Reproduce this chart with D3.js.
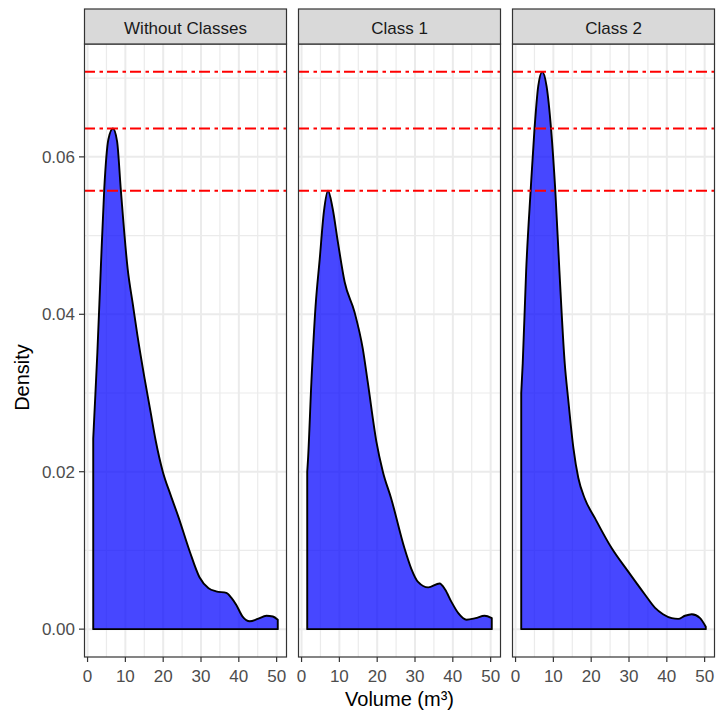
<!DOCTYPE html>
<html>
<head>
<meta charset="utf-8">
<script src="https://cdn.jsdelivr.net/npm/d3@7"></script>
<style>
  body { margin: 0; background: #fff; }
  text { font-family: "Liberation Sans", Arial, sans-serif; }
</style>
</head>
<body>
<svg id="mainSVG" width="718" height="713"></svg>
<script>
var $svg = d3.select("#mainSVG");

// Data: volume (m3) and density
var panelNames = ['Without Classes', 'Class 1', 'Class 2'];

var volWithout = [1.5, 1.8, 2.6, 3.5, 4.4, 5.5, 6.7, 7.8, 8.8, 10.6, 12.0, 13.2, 15.1, 16.7, 18.0, 19.9, 22.0, 24.0, 27.0, 29.6, 32.0, 34.0, 36.7, 38.0, 39.3, 41.0, 42.9, 45.0, 47.3, 49.0, 50.3];
var denWithout = [0.0242, 0.0272, 0.0352, 0.0458, 0.0558, 0.0622, 0.0636, 0.0620, 0.0558, 0.0458, 0.0412, 0.0373, 0.0318, 0.0275, 0.0240, 0.0200, 0.0170, 0.0143, 0.0099, 0.0066, 0.0052, 0.0048, 0.0046, 0.0040, 0.0031, 0.0016, 0.0010, 0.0013, 0.0017, 0.0016, 0.0012];

var volClass1 = [1.5, 1.7, 2.6, 3.7, 4.8, 5.9, 7.0, 8.2, 9.6, 11.4, 14.0, 16.2, 17.5, 19.8, 21.5, 23.7, 27.2, 29.0, 30.8, 33.5, 36.5, 38.0, 39.6, 41.5, 43.6, 46.0, 48.4, 50.3];
var denClass1 = [0.0200, 0.0215, 0.0314, 0.0410, 0.0470, 0.0530, 0.0557, 0.0535, 0.0492, 0.0441, 0.0403, 0.0356, 0.0314, 0.0238, 0.0200, 0.0166, 0.0103, 0.0077, 0.0060, 0.0053, 0.0058, 0.0050, 0.0035, 0.0020, 0.0012, 0.0014, 0.0017, 0.0014];

var volClass2 = [1.5, 1.9, 2.8, 4.0, 5.0, 6.0, 7.05, 8.2, 9.4, 10.5, 11.6, 13.0, 13.9, 15.3, 16.6, 18.3, 21.0, 25.4, 29.8, 34.2, 36.9, 39.0, 41.3, 43.0, 44.8, 46.6, 48.8, 50.3];
var denClass2 = [0.0300, 0.0338, 0.0455, 0.0558, 0.0635, 0.0690, 0.0708, 0.0690, 0.0635, 0.0558, 0.0455, 0.0338, 0.0293, 0.0230, 0.0192, 0.0166, 0.0141, 0.0103, 0.0073, 0.0044, 0.0027, 0.0019, 0.0014, 0.0013, 0.0017, 0.0019, 0.0014, 0.0003];

// peak reference lines drawn in every panel
var peakLines = [0.0708, 0.0636, 0.0557];

var xTicks = [0, 10, 20, 30, 40, 50];
var yTicks = [0, 0.02, 0.04, 0.06];
var xMinor = [5, 15, 25, 35, 45];
var yMinor = [0.01, 0.03, 0.05, 0.07];

var panels = [
    {name: panelNames[0], vol: volWithout, den: denWithout},
    {name: panelNames[1], vol: volClass1, den: denClass1},
    {name: panelNames[2], vol: volClass2, den: denClass2}
];

// Layout
var panelX = [84, 298, 512];
var panelW = 203;
var stripTop = 9, stripH = 35;
var plotTop = stripTop + stripH, plotBottom = 657;

// Scales (ggplot style 5% expansion)
var allVol = volWithout.concat(volClass1, volClass2);
var allDen = denWithout.concat(denClass1, denClass2, peakLines);
var xExt = d3.extent(allVol);
var xPad = (xExt[1] - xExt[0]) * 0.05;
var yMax = d3.max(allDen);
var yPad = yMax * 0.05;

var y = d3.scaleLinear().domain([-yPad, yMax + yPad]).range([plotBottom, plotTop]);

panels.forEach(function(p, i){
    var x = d3.scaleLinear().domain([xExt[0] - xPad, xExt[1] + xPad]).range([0, panelW]);
    var $g = $svg.append('g').attr('transform', `translate(${panelX[i]} 0)`);

    // background + grid
    $g.append('rect').attr('x', 0).attr('y', plotTop)
        .attr('width', panelW).attr('height', plotBottom - plotTop)
        .attr('fill', 'white');

    $g.selectAll('line.xminor').data(xMinor).enter().append('line')
        .attr('x1', d=>x(d)).attr('x2', d=>x(d))
        .attr('y1', plotTop).attr('y2', plotBottom)
        .attr('stroke', '#ebebeb').attr('stroke-width', 1.2);
    $g.selectAll('line.yminor').data(yMinor).enter().append('line')
        .attr('y1', d=>y(d)).attr('y2', d=>y(d))
        .attr('x1', 0).attr('x2', panelW)
        .attr('stroke', '#ebebeb').attr('stroke-width', 1.2);
    $g.selectAll('line.xmajor').data(xTicks).enter().append('line')
        .attr('x1', d=>x(d)).attr('x2', d=>x(d))
        .attr('y1', plotTop).attr('y2', plotBottom)
        .attr('stroke', '#ebebeb').attr('stroke-width', 2);
    $g.selectAll('line.ymajor').data(yTicks).enter().append('line')
        .attr('y1', d=>y(d)).attr('y2', d=>y(d))
        .attr('x1', 0).attr('x2', panelW)
        .attr('stroke', '#ebebeb').attr('stroke-width', 2);

    // density polygon
    var pts = p.vol.map((v, k)=>[v, p.den[k]]);
    var area = d3.area()
        .x(d=>x(d[0])).y0(y(0)).y1(d=>y(d[1]))
        .curve(d3.curveMonotoneX);
    $g.append('path').attr('d', area(pts))
        .attr('fill', 'rgb(0,0,255)').attr('fill-opacity', 0.72)
        .attr('stroke', 'black').attr('stroke-width', 1.9)
        .attr('stroke-linejoin', 'round');

    // red dot-dash reference lines
    $g.selectAll('line.peak').data(peakLines).enter().append('line')
        .attr('x1', 0).attr('x2', panelW)
        .attr('y1', d=>y(d)).attr('y2', d=>y(d))
        .attr('stroke', 'red').attr('stroke-width', 2)
        .attr('stroke-dasharray', '11,4.5,3.5,4');

    // border
    $g.append('rect').attr('x', 0.5).attr('y', plotTop)
        .attr('width', panelW - 1).attr('height', plotBottom - plotTop)
        .attr('fill', 'none').attr('stroke', '#333333').attr('stroke-width', 1.2);

    // strip
    $g.append('rect').attr('x', 0.5).attr('y', stripTop)
        .attr('width', panelW - 1).attr('height', stripH)
        .attr('fill', '#d9d9d9').attr('stroke', '#333333').attr('stroke-width', 1.2);
    $g.append('text').attr('x', panelW / 2).attr('y', stripTop + stripH / 2 + 7)
        .attr('text-anchor', 'middle').attr('font-size', 17)
        .attr('fill', '#1a1a1a').text(p.name);

    // x axis
    var $xa = $g.append('g').attr('transform', `translate(0 ${plotBottom})`);
    $xa.selectAll('line').data(xTicks).enter().append('line')
        .attr('x1', d=>x(d)).attr('x2', d=>x(d))
        .attr('y1', 0).attr('y2', 5)
        .attr('stroke', '#333333').attr('stroke-width', 1.2);
    $xa.selectAll('text').data(xTicks).enter().append('text')
        .attr('x', d=>x(d)).attr('y', 24.5)
        .attr('text-anchor', 'middle').attr('font-size', 17)
        .attr('fill', '#4d4d4d').text(d=>d);

    // y axis on first panel only
    if (i == 0){
        var $ya = $g.append('g');
        $ya.selectAll('line').data(yTicks).enter().append('line')
            .attr('x1', -5).attr('x2', 0)
            .attr('y1', d=>y(d)).attr('y2', d=>y(d))
            .attr('stroke', '#333333').attr('stroke-width', 1.2);
        $ya.selectAll('text').data(yTicks).enter().append('text')
            .attr('x', -9).attr('y', d=>y(d) + 6)
            .attr('text-anchor', 'end').attr('font-size', 17)
            .attr('fill', '#4d4d4d').text(d=>d3.format('.2f')(d));
    }
});

// axis titles
$svg.append('text')
    .attr('x', (panelX[0] + panelX[2] + panelW) / 2).attr('y', 706)
    .attr('text-anchor', 'middle').attr('font-size', 20)
    .attr('fill', 'black').text('Volume (m³)');

$svg.append('text')
    .attr('transform', `translate(29 ${(plotTop + plotBottom) / 2 + 27}) rotate(-90)`)
    .attr('text-anchor', 'middle').attr('font-size', 20)
    .attr('fill', 'black').text('Density');
</script>
</body>
</html>
